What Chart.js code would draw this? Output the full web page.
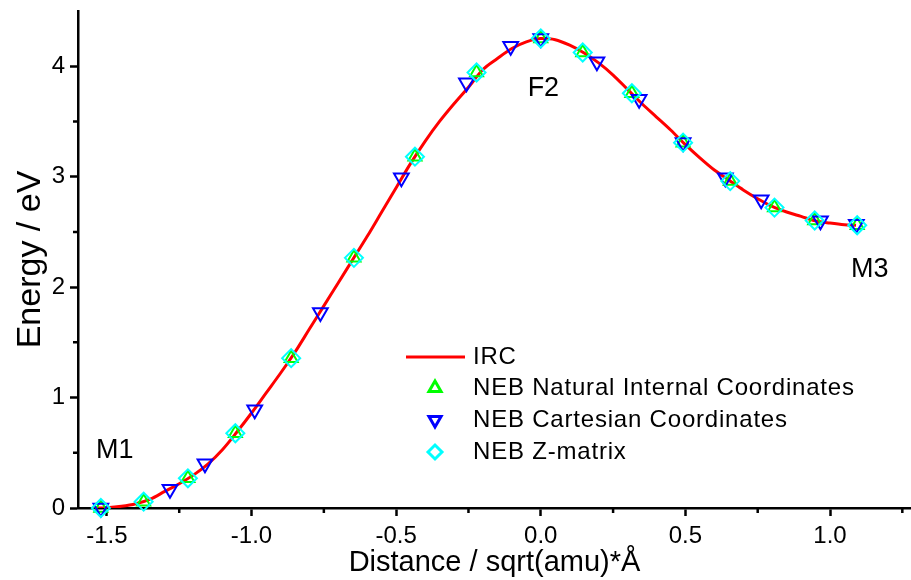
<!DOCTYPE html>
<html>
<head>
<meta charset="utf-8">
<script src="https://cdn.jsdelivr.net/npm/chart.js@4.4.0/dist/chart.umd.min.js"></script>
<style>
  html, body { margin: 0; padding: 0; background: #fff; overflow: hidden; }
  #wrap { width: 911px; height: 580px; }
  #energyChart { display: block; }
</style>
</head>
<body>
<div id="wrap"><canvas id="energyChart"></canvas></div>
<script>
// IRC energy profile
const ircX = [-1.55, -1.50, -1.45, -1.40, -1.35, -1.30, -1.25, -1.20, -1.15, -1.10, -1.05, -1.00,
              -0.95, -0.90, -0.85, -0.80, -0.75, -0.70, -0.65, -0.60, -0.55, -0.50, -0.45, -0.40,
              -0.35, -0.30, -0.25, -0.20, -0.15, -0.10, -0.05, 0.00, 0.05, 0.10, 0.15, 0.20,
              0.25, 0.30, 0.35, 0.40, 0.45, 0.50, 0.55, 0.60, 0.65, 0.70, 0.75, 0.80,
              0.85, 0.90, 0.95, 1.00, 1.05, 1.09];
const ircY = [0.00, 0.003, 0.015, 0.038, 0.08, 0.15, 0.22, 0.30, 0.40, 0.53, 0.69, 0.86,
              1.04, 1.22, 1.41, 1.62, 1.83, 2.04, 2.25, 2.46, 2.68, 2.90, 3.12, 3.32,
              3.50, 3.66, 3.81, 3.97, 4.07, 4.16, 4.22, 4.25, 4.24, 4.19, 4.12, 4.03,
              3.92, 3.79, 3.66, 3.54, 3.42, 3.29, 3.17, 3.06, 2.97, 2.88, 2.80, 2.73,
              2.68, 2.64, 2.60, 2.58, 2.565, 2.56];

// NEB images
const natX  = [-1.521, -1.373, -1.220, -1.056, -0.863, -0.646, -0.435, -0.222, 0.000, 0.145, 0.315, 0.492, 0.655, 0.808, 0.947, 1.094];
const natY  = [0.00, 0.057, 0.269, 0.677, 1.357, 2.265, 3.181, 3.943, 4.251, 4.124, 3.755, 3.308, 2.960, 2.720, 2.603, 2.560];
const cartX = [-1.521, -1.282, -1.161, -0.989, -0.762, -0.482, -0.257, -0.104, 0.000, 0.194, 0.340, 0.492, 0.638, 0.762, 0.967, 1.091];
const cartY = [0.00, 0.17, 0.40, 0.89, 1.77, 2.99, 3.85, 4.18, 4.25, 4.04, 3.70, 3.31, 2.99, 2.79, 2.60, 2.57];
const zmatX = [-1.521, -1.373, -1.220, -1.056, -0.863, -0.646, -0.435, -0.222, 0.000, 0.145, 0.315, 0.492, 0.655, 0.808, 0.947, 1.094];
const zmatY = [0.00, 0.057, 0.269, 0.677, 1.357, 2.265, 3.181, 3.943, 4.251, 4.124, 3.755, 3.308, 2.960, 2.720, 2.603, 2.560];

// axes
const xTicks = [-1.5, -1.0, -0.5, 0.0, 0.5, 1.0];
const xMinor = [-1.25, -0.75, -0.25, 0.25, 0.75, 1.25];
const yTicks = [0, 1, 2, 3, 4];
const yMinor = [0.5, 1.5, 2.5, 3.5];

// point labels
const annoText = ['M1', 'F2', 'M3'];
const annoX = [-1.473, 0.009, 1.137];
const annoY = [0.517, 3.80, 2.16];

const FONT = "'Liberation Sans', Arial, sans-serif";
Chart.defaults.font.family = FONT;
Chart.defaults.color = '#000';

const toPts = (xs, ys) => xs.map((x, i) => ({ x: x, y: ys[i] }));

// short minor ticks on both axes
const minorTicks = {
    id: 'minorTicks',
    afterDraw(chart) {
        const { ctx, chartArea, scales } = chart;
        ctx.save();
        ctx.strokeStyle = '#000';
        ctx.lineWidth = 2.5;
        ctx.beginPath();
        xMinor.forEach(v => {
            const px = scales.x.getPixelForValue(v);
            ctx.moveTo(px, chartArea.bottom);
            ctx.lineTo(px, chartArea.bottom + 5);
        });
        yMinor.forEach(v => {
            const py = scales.y.getPixelForValue(v);
            ctx.moveTo(chartArea.left, py);
            ctx.lineTo(chartArea.left - 5, py);
        });
        ctx.stroke();
        ctx.restore();
    }
};

// state labels M1 / F2 / M3
const stateLabels = {
    id: 'stateLabels',
    afterDatasetsDraw(chart) {
        const { ctx, scales } = chart;
        ctx.save();
        ctx.font = '27px ' + FONT;
        ctx.fillStyle = '#000';
        ctx.textAlign = 'center';
        ctx.textBaseline = 'middle';
        annoText.forEach((t, i) => {
            ctx.fillText(t, scales.x.getPixelForValue(annoX[i]), scales.y.getPixelForValue(annoY[i]));
        });
        ctx.restore();
    }
};

// legend inside the plot area
const innerLegend = {
    id: 'innerLegend',
    afterDraw(chart) {
        const { ctx } = chart;
        const rows = [357, 388, 420, 452];
        ctx.save();
        ctx.font = '24px ' + FONT;
        ctx.letterSpacing = '0.8px';
        ctx.textBaseline = 'middle';
        ctx.textAlign = 'left';
        chart.data.datasets.forEach((ds, i) => {
            const y = rows[i];
            if (ds.showLine) {
                ctx.strokeStyle = ds.borderColor;
                ctx.lineWidth = 3;
                ctx.beginPath();
                ctx.moveTo(406, y);
                ctx.lineTo(465, y);
                ctx.stroke();
            } else {
                ctx.strokeStyle = ds.pointBorderColor;
                ctx.fillStyle = 'rgba(0,0,0,0)';
                Chart.helpers.drawPoint(ctx, {
                    pointStyle: ds.pointStyle,
                    rotation: ds.pointRotation || 0,
                    radius: 7,
                    borderWidth: 2
                }, 435, y);
            }
            ctx.fillStyle = '#000';
            ctx.fillText(ds.label, 473, y);
        });
        ctx.restore();
    }
};

new Chart(document.getElementById('energyChart'), {
    type: 'scatter',
    data: {
        datasets: [
            {
                label: 'IRC',
                data: toPts(ircX, ircY),
                showLine: true,
                borderColor: '#ff0000',
                borderWidth: 3,
                pointRadius: 0,
                cubicInterpolationMode: 'monotone',
                order: 4
            },
            {
                label: 'NEB Natural Internal Coordinates',
                data: toPts(natX, natY),
                pointStyle: 'triangle',
                pointRadius: 7.5,
                pointBorderWidth: 2,
                pointBorderColor: '#00ff00',
                pointBackgroundColor: 'rgba(0,0,0,0)',
                clip: false,
                order: 3
            },
            {
                label: 'NEB Cartesian Coordinates',
                data: toPts(cartX, cartY),
                pointStyle: 'triangle',
                pointRotation: 180,
                pointRadius: 8.5,
                pointBorderWidth: 2,
                pointBorderColor: '#0000ff',
                pointBackgroundColor: 'rgba(0,0,0,0)',
                clip: false,
                order: 2
            },
            {
                label: 'NEB Z-matrix',
                data: toPts(zmatX, zmatY),
                pointStyle: 'rectRot',
                pointRadius: 9,
                pointBorderWidth: 2,
                pointBorderColor: '#00ffff',
                pointBackgroundColor: 'rgba(0,0,0,0)',
                clip: false,
                order: 1
            }
        ]
    },
    options: {
        responsive: true,
        maintainAspectRatio: false,
        animation: false,
        layout: { autoPadding: false, padding: { top: 11, right: 0, left: 0, bottom: 0 } },
        plugins: {
            legend: { display: false },
            tooltip: { enabled: false }
        },
        scales: {
            x: {
                type: 'linear',
                min: -1.6,
                max: 1.28,
                afterBuildTicks: scale => { scale.ticks = xTicks.map(v => ({ value: v })); },
                afterFit: scale => {
                    scale.height = 72;
                    scale.paddingLeft = 0;
                    scale.paddingRight = 0;
                },
                border: { color: '#000', width: 2.5 },
                grid: { drawOnChartArea: false, tickLength: 8, tickWidth: 2.5, tickColor: '#000' },
                ticks: {
                    padding: 6,
                    font: { size: 24 },
                    callback: v => v.toFixed(1)
                },
                title: {
                    display: true,
                    text: 'Distance / sqrt(amu)*\u00c5',
                    font: { size: 29 },
                    padding: { top: 0, bottom: 0 }
                }
            },
            y: {
                type: 'linear',
                min: 0,
                max: 4.5,
                afterBuildTicks: scale => { scale.ticks = yTicks.map(v => ({ value: v })); },
                afterFit: scale => {
                    scale.width = 78;
                    scale.paddingTop = 0;
                    scale.paddingBottom = 0;
                },
                border: { color: '#000', width: 2.5 },
                grid: { drawOnChartArea: false, tickLength: 8, tickWidth: 2.5, tickColor: '#000' },
                ticks: {
                    padding: 5,
                    font: { size: 24 },
                    callback: v => String(v)
                },
                title: {
                    display: true,
                    text: 'Energy / eV',
                    font: { size: 34 },
                    padding: { top: 10, bottom: 0 }
                }
            }
        }
    },
    plugins: [minorTicks, stateLabels, innerLegend]
});
</script>
</body>
</html>
